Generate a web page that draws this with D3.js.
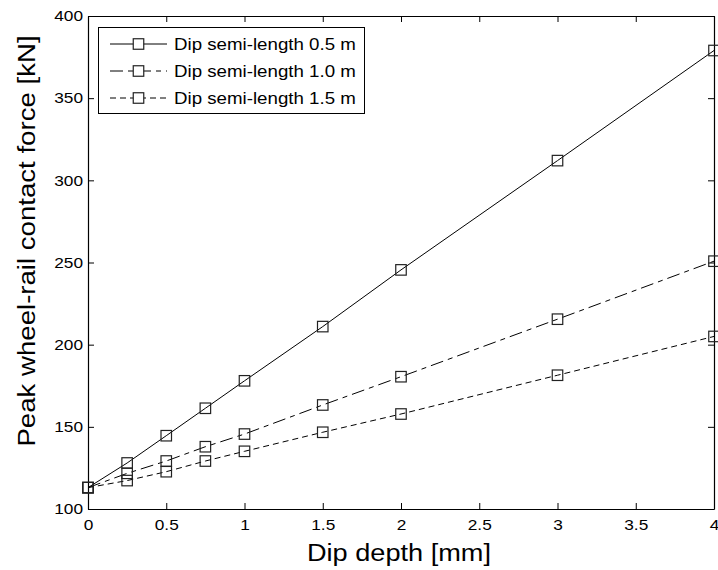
<!DOCTYPE html>
<html>
<head>
<meta charset="utf-8">
<script src="https://cdn.jsdelivr.net/npm/d3@7"></script>
<style>
  html, body { margin: 0; padding: 0; background: #fff; }
  svg { display: block; }
  text { font-family: "Liberation Sans", Arial, sans-serif; fill: #000; }
</style>
</head>
<body>
<svg id="chart" width="718" height="570"></svg>
<script>
// Dip depth [mm]
const depths = [0, 0.25, 0.5, 0.75, 1, 1.5, 2, 3, 4];
// Peak wheel-rail contact force [kN] for each dip semi-length
const force05 = [113, 128, 144.6, 161.3, 178, 211, 245.5, 312, 379];
const force10 = [113, 121.7, 129.2, 137.9, 145.6, 163.3, 180.5, 215.5, 250.8];
const force15 = [113, 117.3, 122.7, 129.2, 135.1, 146.7, 157.8, 181.4, 205];
const seriesNames = ["Dip semi-length 0.5 m", "Dip semi-length 1.0 m", "Dip semi-length 1.5 m"];
const xTicks = [0, 0.5, 1, 1.5, 2, 2.5, 3, 3.5, 4];
const yTicks = [100, 150, 200, 250, 300, 350, 400];

const dashes = [null, "13,5,5,5", "6,4"];
const seriesValues = [force05, force10, force15];

const svg = d3.select("#chart");
const margin = { left: 88, top: 16, right: 4, bottom: 61 };
const W = 718, H = 570;
const x = d3.scaleLinear().domain([0, 4]).range([margin.left, W - margin.right]);
const y = d3.scaleLinear().domain([100, 400]).range([H - margin.bottom, margin.top]);

// stretch text horizontally by a factor; returns the new length
function widen(sel, k) {
  let out = 0;
  sel.each(function () {
    const len = this.getComputedTextLength() * k;
    d3.select(this).attr("textLength", len).attr("lengthAdjust", "spacingAndGlyphs");
    out = len;
  });
  return out;
}

const tickLen = 6;
// Axes box with inward ticks on all four sides
const gx = svg.append("g").attr("transform", `translate(0,${y(100)})`)
  .call(d3.axisBottom(x).tickValues(xTicks).tickSizeInner(-tickLen).tickSizeOuter(0).tickPadding(10)
    .tickFormat(d3.format("~g")));
const gxTop = svg.append("g").attr("transform", `translate(0,${y(400)})`)
  .call(d3.axisTop(x).tickValues(xTicks).tickSizeInner(-tickLen).tickSizeOuter(0).tickFormat(""));
const gy = svg.append("g").attr("transform", `translate(${x(0)},0)`)
  .call(d3.axisLeft(y).tickValues(yTicks).tickSizeInner(-tickLen).tickSizeOuter(0).tickPadding(5));
const gyR = svg.append("g").attr("transform", `translate(${x(4)},0)`)
  .call(d3.axisRight(y).tickValues(yTicks).tickSizeInner(-tickLen).tickSizeOuter(0).tickFormat(""));

[gx, gxTop, gy, gyR].forEach(g => {
  g.select(".domain").attr("stroke", "#000").attr("stroke-width", 1.2);
  g.selectAll(".tick line").attr("stroke", "#000").attr("stroke-width", 1);
  g.selectAll("text").attr("font-size", 15).attr("fill", "#000")
    .style("font-family", '"Liberation Sans", Arial, sans-serif');
});
widen(gx.selectAll(".tick text"), 1.15);
widen(gy.selectAll(".tick text"), 1.15);

// Series lines and square markers
const line = d3.line().x((d, i) => x(depths[i])).y(d => y(d));
const msz = 10.5;
seriesValues.forEach((vals, s) => {
  const g = svg.append("g");
  g.append("path").datum(vals).attr("d", line)
    .attr("fill", "none").attr("stroke", "#000").attr("stroke-width", 1)
    .attr("stroke-dasharray", dashes[s]);
  g.selectAll("rect").data(vals).join("rect")
    .attr("x", (d, i) => x(depths[i]) - msz / 2)
    .attr("y", d => y(d) - msz / 2)
    .attr("width", msz).attr("height", msz)
    .attr("fill", "none").attr("stroke", "#222").attr("stroke-width", 1.2);
});

// Legend
const lg = svg.append("g");
lg.append("rect").attr("x", 98.5).attr("y", 27.5).attr("width", 266).attr("height", 86)
  .attr("fill", "#fff").attr("stroke", "#000").attr("stroke-width", 1);
seriesNames.forEach((name, s) => {
  const cy = 44 + s * 27;
  lg.append("line").attr("x1", 110).attr("x2", 167).attr("y1", cy).attr("y2", cy)
    .attr("stroke", "#000").attr("stroke-width", 1).attr("stroke-dasharray", dashes[s]);
  lg.append("rect").attr("x", 138.5 - msz / 2).attr("y", cy - msz / 2)
    .attr("width", msz).attr("height", msz)
    .attr("fill", "#fff").attr("stroke", "#222").attr("stroke-width", 1.2);
  const t = lg.append("text").attr("x", 174).attr("y", cy).attr("dy", "0.36em")
    .attr("font-size", 17).text(name);
  widen(t, 1.1);
});

// Axis titles, placed from their start so the stretched text stays centred
const xt = svg.append("text").attr("y", 561).attr("font-size", 23).text("Dip depth [mm]");
const xl = widen(xt, 1.18);
xt.attr("x", 399 - xl / 2);

const yt = svg.append("text").attr("font-size", 23).text("Peak wheel-rail contact force [kN]");
const yl = widen(yt, 1.2);
yt.attr("transform", `translate(35,${241 + yl / 2}) rotate(-90)`);
</script>
</body>
</html>
